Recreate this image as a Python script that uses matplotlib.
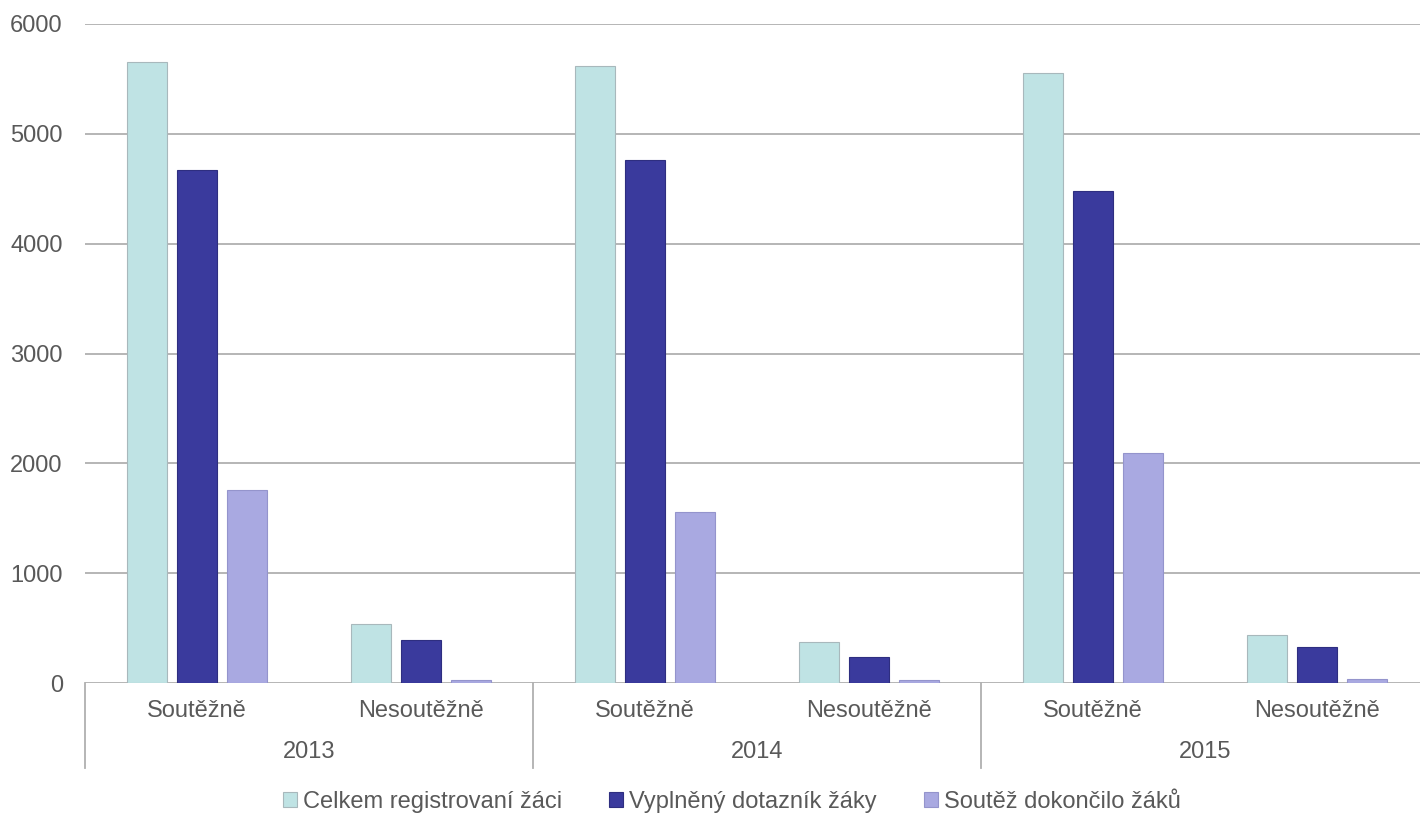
import matplotlib
matplotlib.use("Agg")
import matplotlib.pyplot as plt
import numpy as np
from matplotlib.lines import Line2D
import matplotlib.transforms as mtransforms

plt.rcParams['font.family'] = ['Liberation Sans', 'DejaVu Sans']

years = ["2013", "2014", "2015"]
modes = ["Soutěžně", "Nesoutěžně"]
series_names = ["Celkem registrovaní žáci", "Vyplněný dotazník žáky", "Soutěž dokončilo žáků"]
registered = [5650, 540, 5620, 370, 5550, 440]
questionnaire = [4670, 390, 4760, 240, 4480, 330]
completed = [1760, 30, 1560, 30, 2090, 40]
colors = ["#BFE3E4", "#3A3A9D", "#A9A9E1"]
edges = ["#A8B8BC", "#2E2E80", "#9494CC"]

fig = plt.figure(figsize=(14.2, 8.16), dpi=100)
ax = fig.add_axes([85/1420, 1-683/816, 1344/1420, (683-24)/816])

n = len(registered)
x = np.arange(n)
w = 0.175
step = 0.223
for i, (vals, c, e, name) in enumerate(zip([registered, questionnaire, completed], colors, edges, series_names)):
    ax.bar(x + (i-1)*step, vals, width=w, color=c, edgecolor=e, linewidth=0.8, label=name, zorder=3)

ax.set_xlim(-0.5, n-0.5)
ax.set_ylim(0, 6000)
ax.set_yticks(np.arange(0, 6001, 1000))
ax.yaxis.grid(True, color="#B0B0B0", linewidth=1.3, zorder=0)
ax.set_axisbelow(True)
for s in ax.spines.values():
    s.set_visible(False)
ax.tick_params(axis='y', length=0, pad=16, labelsize=17, labelcolor="#595959")
ax.set_xticks([])

trans = mtransforms.blended_transform_factory(ax.transData, fig.transFigure)
for j in range(n):
    ax.text(j, 1-711/816, modes[j % 2], transform=trans, ha='center', va='center',
            fontsize=17, color="#595959")
for k, yr in enumerate(years):
    ax.text(2*k+0.5, 1-752/816, yr, transform=trans, ha='center', va='center',
            fontsize=17, color="#595959")
for b in [-0.5, 1.5, 3.5, 5.5]:
    ax.add_line(Line2D([b, b], [1-683/816, 1-768/816], transform=trans, color="#B0B0B0",
                       linewidth=1.3, clip_on=False))

leg = fig.legend(loc='center', bbox_to_anchor=(732/1420, 1-802/816), ncol=3, frameon=False,
                 fontsize=17, handlelength=0.6, handleheight=0.6, handletextpad=0.25,
                 columnspacing=2.0, labelcolor="#595959")

fig.savefig("out.png", dpi=100)
